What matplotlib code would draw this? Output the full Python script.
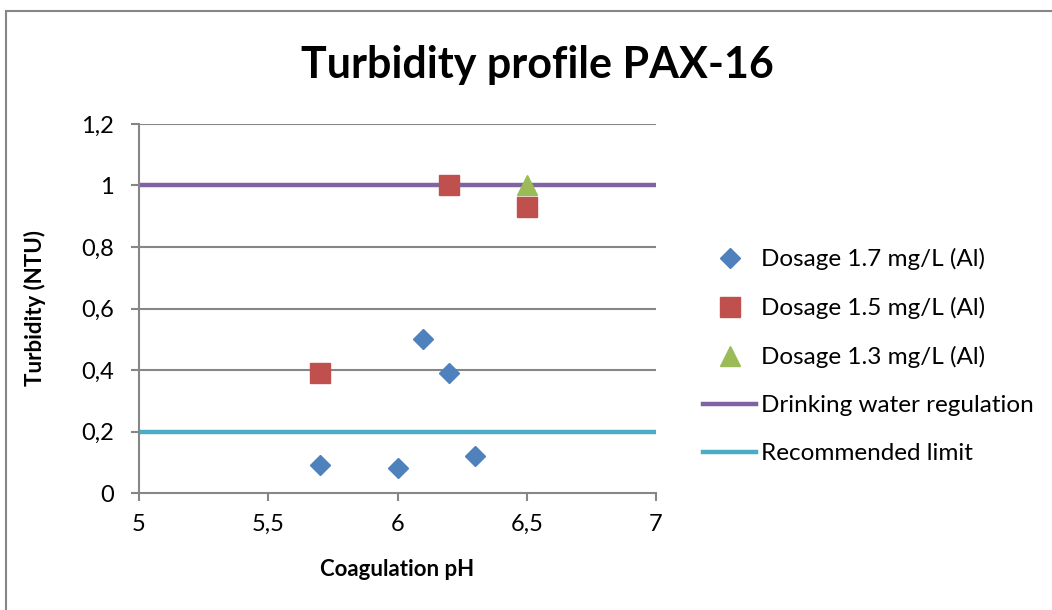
import matplotlib
matplotlib.use("Agg")
import matplotlib.pyplot as plt
from matplotlib.patches import Rectangle

plt.rcParams['font.family'] = ['Lato', 'DejaVu Sans']

# Data
ph_17 = [5.7, 6.0, 6.1, 6.2, 6.3]
turb_17 = [0.09, 0.08, 0.50, 0.39, 0.12]
ph_15 = [5.7, 6.2, 6.5]
turb_15 = [0.39, 1.00, 0.93]
ph_13 = [6.5]
turb_13 = [1.00]
limit_x = [5, 7]
regulation_y = [1.0, 1.0]
recommended_y = [0.2, 0.2]
x_ticks = [5, 5.5, 6, 6.5, 7]
x_tick_labels = ["5", "5,5", "6", "6,5", "7"]
y_ticks = [0, 0.2, 0.4, 0.6, 0.8, 1.0, 1.2]
y_tick_labels = ["0", "0,2", "0,4", "0,6", "0,8", "1", "1,2"]

fig = plt.figure(figsize=(10.52, 6.10), dpi=100)
fig.patches.append(Rectangle((6/1052, -0.1), 1.2, 1 - 11/610 + 0.1, transform=fig.transFigure,
                             fill=False, edgecolor='#868686', linewidth=1.5))

ax = fig.add_axes([139/1052, 117/610, 517/1052, 369/610])

grid_c = '#868686'
for y in y_ticks[1:]:
    ax.axhline(y, color=grid_c, linewidth=1.5, zorder=1)

ax.plot(limit_x, regulation_y, color='#8064A2', linewidth=3.2, label='Drinking water regulation', zorder=2)
ax.plot(limit_x, recommended_y, color='#4BACC6', linewidth=3.2, label='Recommended limit', zorder=2)

h1, = ax.plot(ph_17, turb_17, linestyle='none', marker='D', markersize=10.5, color='#4F81BD',
              markeredgecolor='#4F81BD', label='Dosage 1.7 mg/L (Al)', zorder=3)
h2, = ax.plot(ph_15, turb_15, linestyle='none', marker='s', markersize=14, color='#C0504D',
              markeredgecolor='#C0504D', label='Dosage 1.5 mg/L (Al)', zorder=3)
h3, = ax.plot(ph_13, turb_13, linestyle='none', marker='^', markersize=14, color='#9BBB59',
              markeredgecolor='#9BBB59', label='Dosage 1.3 mg/L (Al)', zorder=3)

ax.set_xlim(5, 7)
ax.set_ylim(0, 1.2)
ax.set_xticks(x_ticks)
ax.set_xticklabels(x_tick_labels)
ax.set_yticks(y_ticks)
ax.set_yticklabels(y_tick_labels)
for s in ['top', 'right']:
    ax.spines[s].set_visible(False)
for s in ['left', 'bottom']:
    ax.spines[s].set_color(grid_c)
    ax.spines[s].set_linewidth(1.5)
ax.tick_params(axis='both', colors=grid_c, labelcolor='black', labelsize=17, length=6, width=1.5, direction='out')
ax.tick_params(axis='x', pad=9)
ax.tick_params(axis='y', pad=12)

ax.set_xlabel('Coagulation pH', fontsize=16, fontweight='bold', va='center')
ax.set_ylabel('Turbidity (NTU)', fontsize=16, fontweight='bold', va='center')
ax.xaxis.set_label_coords(0.5, (493 - 570) / 369)
ax.yaxis.set_label_coords((35 - 139) / 517, 0.5)

fig.text(537/1052, 1 - 65/610, 'Turbidity profile PAX-16', fontsize=31, fontweight='bold',
         ha='center', va='center')

handles, labels = ax.get_legend_handles_labels()
order = [2, 3, 4, 0, 1]
leg = fig.legend([handles[i] for i in order], [labels[i] for i in order],
                 loc='upper left', bbox_to_anchor=(703/1052, 1 - 248/610), frameon=False,
                 fontsize=17.5, handlelength=2.2, handletextpad=0.2, labelspacing=1.11,
                 borderaxespad=0, borderpad=0)

fig.savefig('out.png', dpi=100, facecolor='white')
